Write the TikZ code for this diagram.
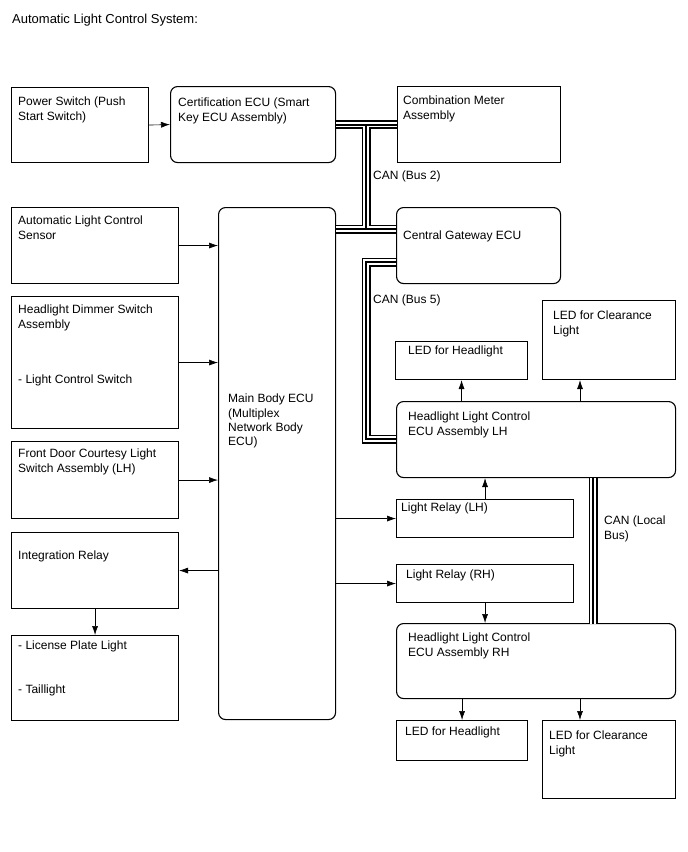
\documentclass[tikz,border=0pt]{standalone}
\usepackage{fontspec}
\setmainfont{Liberation Sans}
\usetikzlibrary{arrows.meta}

\tikzset{
  blk/.style={draw, line width=1.1pt, inner sep=0, anchor=north west},
  rblk/.style={blk, rounded corners=7pt},
  lbl/.style={anchor=north west, inner sep=0, align=left, font=\fontsize{12}{14.3}\selectfont},
  arr/.style={-{Latex[length=9pt,width=6pt]}, line width=0.6pt},
  canbus/.style={line width=9pt, line join=miter,
    postaction={draw=white, line width=5.5pt},
    postaction={draw=black, line width=2pt}}
}

\begin{document}
\begin{tikzpicture}[x=1pt, y=-1pt]
        \useasboundingbox (0,0) rectangle (688,852);

        %titolo
        \node[lbl, font=\fontsize{13}{15}\selectfont] (title) at (12,14) {Automatic Light Control System:};

        %blocchi
        \node[blk, minimum width=137, minimum height=75] (pwr) at (11,87) {};
        \node[rblk, minimum width=165, minimum height=76] (cert) at (170,86) {};
        \node[blk, minimum width=163, minimum height=76] (comb) at (397,86) {};
        \node[blk, minimum width=167, minimum height=76] (alc) at (11,207) {};
        \node[rblk, minimum width=117, minimum height=512] (main) at (218,207) {};
        \node[rblk, minimum width=164, minimum height=76] (gw) at (396,207) {};
        \node[blk, minimum width=167, minimum height=132] (dim) at (11,296) {};
        \node[blk, minimum width=167, minimum height=77] (door) at (11,441) {};
        \node[blk, minimum width=167, minimum height=76] (intr) at (11,532) {};
        \node[blk, minimum width=167, minimum height=85] (lic) at (11,635) {};
        \node[blk, minimum width=132, minimum height=38] (ledhl1) at (395,341) {};
        \node[blk, minimum width=133, minimum height=79] (ledcl1) at (542,300) {};
        \node[rblk, minimum width=279, minimum height=76] (hlecul) at (396,401) {};
        \node[blk, minimum width=177, minimum height=38] (rlyl) at (396,499) {};
        \node[blk, minimum width=177, minimum height=38] (rlyr) at (396,564) {};
        \node[rblk, minimum width=279, minimum height=75] (hlecur) at (396,623) {};
        \node[blk, minimum width=131, minimum height=40] (ledhl2) at (396,720) {};
        \node[blk, minimum width=133, minimum height=78] (ledcl2) at (542,720) {};

        %testi
        \node[lbl] (tpwr) at (18,97) {Power Switch (Push\\Start Switch)};
        \node[lbl] (tcert) at (178,98) {Certification ECU (Smart\\Key ECU Assembly)};
        \node[lbl] (tcomb) at (403,96) {Combination Meter\\Assembly};
        \node[lbl] (talc) at (18,216) {Automatic Light Control\\Sensor};
        \node[lbl] (tgw) at (403,231) {Central Gateway ECU};
        \node[lbl] (tdim) at (18,305) {Headlight Dimmer Switch\\Assembly};
        \node[lbl] (tlcs) at (18,375) {- Light Control Switch};
        \node[lbl] (tmain) at (228,394) {Main Body ECU\\(Multiplex\\Network Body\\ECU)};
        \node[lbl] (tledcl1) at (553,311) {LED for Clearance\\Light};
        \node[lbl] (tledhl1) at (408,346) {LED for Headlight};
        \node[lbl] (thlecul) at (408,412) {Headlight Light Control\\ECU Assembly LH};
        \node[lbl] (tdoor) at (18,449) {Front Door Courtesy Light\\Switch Assembly (LH)};
        \node[lbl] (trlyl) at (401,503) {Light Relay (LH)};
        \node[lbl] (tintr) at (18,551) {Integration Relay};
        \node[lbl] (trlyr) at (406,570) {Light Relay (RH)};
        \node[lbl] (tlic) at (18,641) {- License Plate Light};
        \node[lbl] (ttail) at (18,685) {- Taillight};
        \node[lbl] (thlecur) at (408,633) {Headlight Light Control\\ECU Assembly RH};
        \node[lbl] (tledhl2) at (405,727) {LED for Headlight};
        \node[lbl] (tledcl2) at (549,731) {LED for Clearance\\Light};

        %bus CAN
        \draw[canbus] (cert.east) -- (comb.west)
                      (366,124) -- (366,229)
                      (main.east |- 0,229) -- (gw.west |- 0,229);
        \draw[canbus] (gw.west |- 0,262) -| (366,439) -- (hlecul.west |- 0,439);
        \draw[canbus] (hlecul.south -| 0,0) ++(593,0) -- ++(0,146);
        \node[lbl] (can2) at (373,171) {CAN (Bus 2)};
        \node[lbl] (can5) at (373,295) {CAN (Bus 5)};
        \node[lbl] (canl) at (604,516) {CAN (Local\\Bus)};

        %frecce
        \draw[arr] (pwr.east) -- (cert.west);
        \draw[arr] (alc.east) -- (alc.east -| main.west);
        \draw[arr] (dim.east) -- (dim.east -| main.west);
        \draw[arr] (door.east) -- (door.east -| main.west);
        \draw[arr] (intr.east -| main.west) -- (intr.east);
        \draw[arr] (intr.south) -- (lic.north);
        \draw[arr] (rlyl.west -| main.east) -- (rlyl.west);
        \draw[arr] (rlyr.west -| main.east) -- (rlyr.west);
        \draw[arr] (rlyl.north) -- (rlyl.north |- hlecul.south);
        \draw[arr] (ledhl1.south |- hlecul.north) -- (ledhl1.south);
        \draw[arr] ([xshift=38pt]ledcl1.south west |- hlecul.north) -- ([xshift=38pt]ledcl1.south west);
        \draw[arr] (rlyr.south) -- (rlyr.south |- hlecur.north);
        \draw[arr] (ledhl2.north |- hlecur.south) -- (ledhl2.north);
        \draw[arr] ([xshift=38pt]ledcl2.north west |- hlecur.south) -- ([xshift=38pt]ledcl2.north west);
    \end{tikzpicture}
\end{document}
